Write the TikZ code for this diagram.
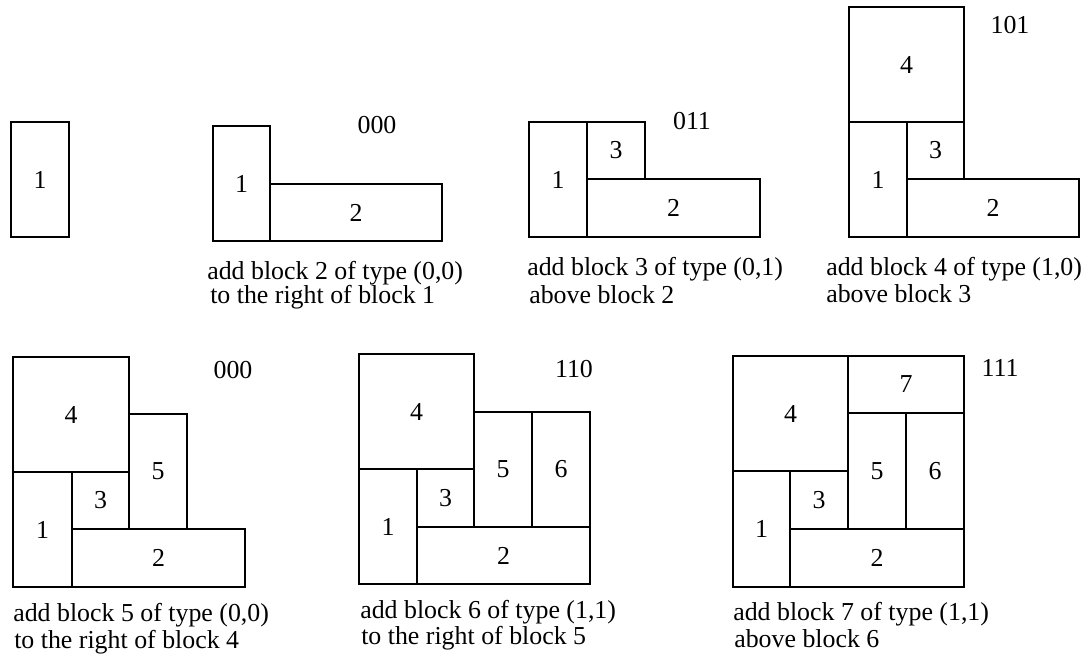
\documentclass[tikz,border=0pt]{standalone}
\usepackage{fontspec}
\setmainfont{Liberation Serif}
\tikzset{
  x=0.75pt, y=-0.75pt,
  every node/.style={font=\fontsize{19.4}{23}\selectfont},
  blk/.style={draw, line width=0.9pt, inner sep=0pt, outer sep=0pt, anchor=north west},
  captxt/.style={anchor=base west, inner sep=0pt},
  codetxt/.style={anchor=center, inner sep=0pt}
}
\newcommand\blk[6]{\node[blk, minimum width={(#4-#2)*0.75pt}, minimum height={(#5-#3)*0.75pt}] (#1) at (#2,#3) {#6};}
\begin{document}
\begin{tikzpicture}
\useasboundingbox (0,0) rectangle (1084,658);
% diagram 1
\blk{a1}{11}{122}{69}{237}{1}
% diagram 2
\blk{b1}{213}{126}{270}{241}{1}
\blk{b2}{270}{184}{442}{241}{2}
\node[codetxt] (bc) at (377,125) {000};
\node[captxt] (bt1) at (207,279) {add block 2 of type (0,0)};
\node[captxt] (bt2) at (210,303) {to the right of block 1};
% diagram 3
\blk{c1}{529}{122}{587}{237}{1}
\blk{c3}{587}{122}{645}{179}{3}
\blk{c2}{587}{179}{760}{237}{2}
\node[codetxt] (cc) at (692,121) {011};
\node[captxt] (ct1) at (527,275) {add block 3 of type (0,1)};
\node[captxt] (ct2) at (529,303) {above block 2};
% diagram 4
\blk{d4}{849}{7}{964}{122}{4}
\blk{d1}{849}{122}{907}{237}{1}
\blk{d3}{907}{122}{964}{179}{3}
\blk{d2}{907}{179}{1079}{237}{2}
\node[codetxt] (dc) at (1010,25) {101};
\node[captxt] (dt1) at (826,275) {add block 4 of type (1,0)};
\node[captxt] (dt2) at (826,302) {above block 3};
% diagram 5
\blk{e4}{13}{357}{129}{472}{4}
\blk{e1}{13}{472}{72}{587}{1}
\blk{e3}{72}{472}{129}{529}{3}
\blk{e5}{129}{414}{187}{529}{5}
\blk{e2}{72}{529}{245}{587}{2}
\node[codetxt] (ec) at (233,370) {000};
\node[captxt] (et1) at (13,621) {add block 5 of type (0,0)};
\node[captxt] (et2) at (14,648) {to the right of block 4};
% diagram 6
\blk{f4}{359}{354}{474}{469}{4}
\blk{f1}{359}{469}{417}{584}{1}
\blk{f3}{417}{469}{474}{527}{3}
\blk{f5}{474}{412}{532}{527}{5}
\blk{f6}{532}{412}{590}{527}{6}
\blk{f2}{417}{527}{590}{584}{2}
\node[codetxt] (fc) at (574,369) {110};
\node[captxt] (ft1) at (360,618) {add block 6 of type (1,1)};
\node[captxt] (ft2) at (361,644) {to the right of block 5};
% diagram 7
\blk{g4}{733}{356}{848}{471}{4}
\blk{g7}{848}{356}{964}{413}{7}
\blk{g5}{848}{413}{906}{529}{5}
\blk{g6}{906}{413}{964}{529}{6}
\blk{g1}{733}{471}{790}{587}{1}
\blk{g3}{790}{471}{848}{529}{3}
\blk{g2}{790}{529}{964}{587}{2}
\node[codetxt] (gc) at (1000,368) {111};
\node[captxt] (gt1) at (733,620) {add block 7 of type (1,1)};
\node[captxt] (gt2) at (734,647) {above block 6};
\end{tikzpicture}
\end{document}
